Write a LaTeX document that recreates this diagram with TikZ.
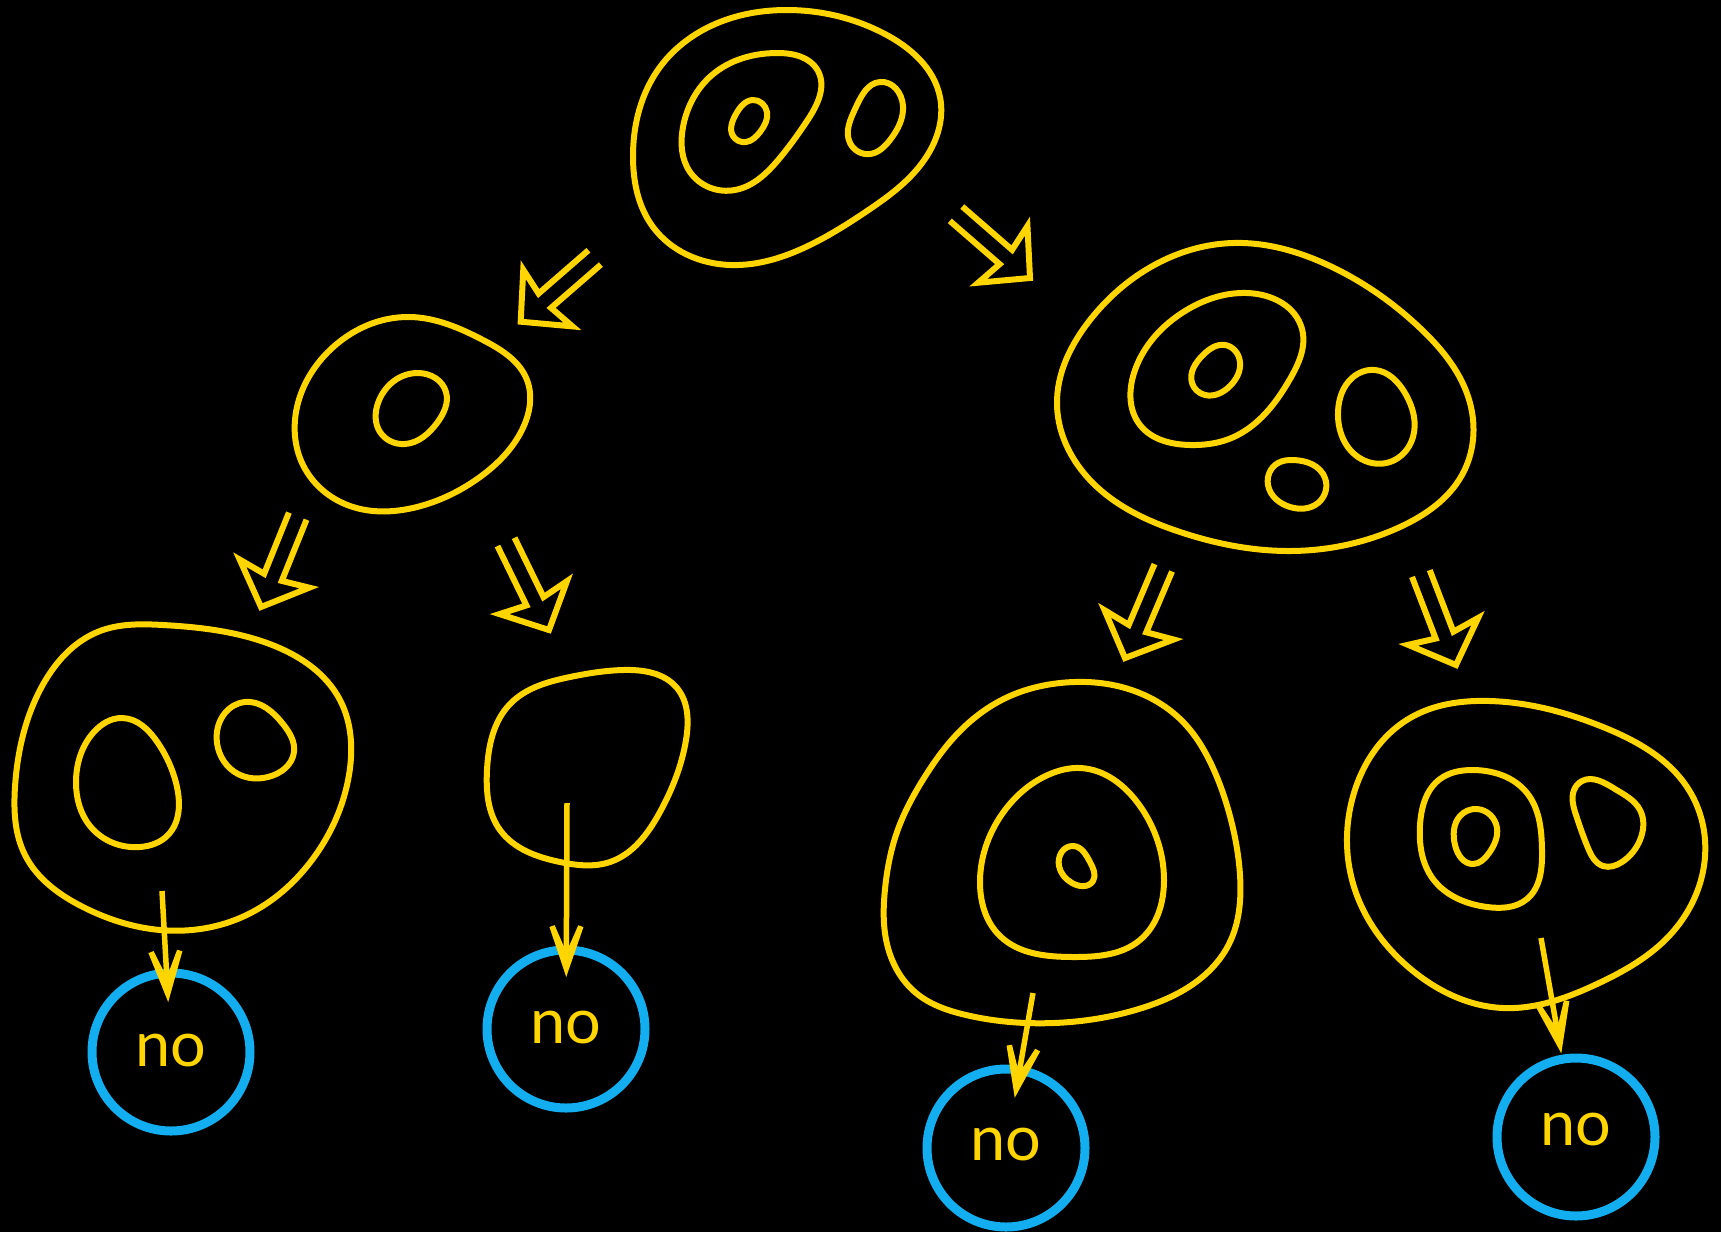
\documentclass[tikz,border=0pt]{standalone}
\usepackage{fontspec}
\newfontfamily\labelfont{Lato}
\usetikzlibrary{calc,hobby}
\definecolor{chalk}{HTML}{FFD500}
\definecolor{sky}{HTML}{13AEEF}
\begin{document}
\begin{tikzpicture}[x=1pt,y=-1pt,
  sketch/.style={draw=chalk, line width=6pt, line join=round},
  nocirc/.style={circle, draw=sky, line width=9pt, minimum size=158pt,
    inner sep=0pt, outer sep=0pt, text=chalk,
    font=\labelfont\fontsize{63}{70}\selectfont},
  conn/.style={draw=chalk, line width=5.5pt, shorten >=15pt},
  headat/.style={pos=1, sloped, allow upside down},
  % barbed head with a solid point, pointing along +x
  vhead/.pic={
    \fill[chalk] (0,0) -- (-50,-17) -- (-51.8,-11.8) -- (-31,-2.75)
      -- (-31,2.75) -- (-51.8,11.8) -- (-50,17) -- cycle;
  },
  % hollow double-line arrow, pointing along +x
  dblarrow/.pic={
    \draw[chalk, line width=6pt, line join=miter]
      (-98,-9.5) -- (-32,-9.5) -- (-36,-37.5) -- (0,0)
      -- (-36,37.5) -- (-32,9.5) -- (-98,9.5);
  }]

% canvas
\fill[black] (0,0) rectangle (1721,1232);
\useasboundingbox (0,0) rectangle (1721,1232);

% ---- top region ----
\draw[sketch] plot[closed hobby] coordinates {(787,10) (883,33) (940,97) (938,132) (911,176) (867,211) (812,244) (730,265) (653,227) (633,157) (660,67) (720,22)};
\draw[sketch] plot[closed hobby] coordinates {(777,53) (818,71) (807,121) (779,159) (735,190) (690,172) (683,127) (712,75)};
\draw[sketch] plot[closed hobby] coordinates {(753,100) (767,112) (760,132) (746,142) (733,136) (736,114)};
\draw[sketch] plot[closed hobby] coordinates {(880,82) (903,106) (890,140) (870,154) (850,143) (856,107)};

% ---- left middle region ----
\draw[sketch] plot[closed hobby] coordinates {(410,317) (483,340) (527,380) (522,430) (480,477) (417,507) (350,506) (303,465) (297,407) (330,350)};
\draw[sketch] plot[closed hobby] coordinates {(418,373) (446,392) (437,423) (405,444) (380,432) (378,403)};

% ---- right middle region ----
\draw[sketch] plot[closed hobby] coordinates {(1233,243) (1330,266) (1420,328) (1470,403) (1462,475) (1400,527) (1290,551) (1180,532) (1097,487) (1057,405) (1090,320) (1160,262)};
\draw[sketch] plot[closed hobby] coordinates {(1247,293) (1302,329) (1290,379) (1262,417) (1229,439) (1190,445) (1140,425) (1135,370) (1185,311)};
\draw[sketch] plot[closed hobby] coordinates {(1225,345) (1240,362) (1230,386) (1205,395) (1192,383) (1203,355)};
\draw[sketch] plot[closed hobby] coordinates {(1375,370) (1405,393) (1413,437) (1390,462) (1358,457) (1338,412) (1352,378)};
\draw[sketch] plot[closed hobby] coordinates {(1293,460) (1325,478) (1318,503) (1290,507) (1268,485) (1278,463)};

% ---- bottom row ----
\draw[sketch] plot[closed hobby] coordinates {(163,625) (267,643) (340,700) (349,775) (312,860) (240,918) (160,930) (83,907) (25,855) (15,787) (40,690) (100,631)};
\draw[sketch] plot[closed hobby] coordinates {(122,718) (158,743) (177,787) (168,835) (140,847) (90,826) (76,782) (93,733)};
\draw[sketch] plot[closed hobby] coordinates {(245,702) (283,724) (294,752) (268,777) (238,774) (217,743) (225,713)};

\draw[sketch] plot[closed hobby] coordinates {(623,670) (677,688) (686,740) (660,812) (610,862) (560,862) (500,830) (487,770) (510,704) (570,677)};

\draw[sketch] plot[closed hobby] coordinates {(1060,683) (1142,694) (1185,724) (1213,768) (1231,820) (1240,875) (1229,944) (1196,982) (1142,1008) (1054,1023) (966,1015) (916,993) (887,944) (885,889) (897,832) (924,778) (962,729) (1010,696)};
\draw[sketch] plot[closed hobby] coordinates {(1080,768) (1140,806) (1164,880) (1140,940) (1073,957) (1000,936) (980,880) (1005,810) (1050,774)};
\draw[sketch] plot[closed hobby] coordinates {(1073,846) (1090,862) (1093,881) (1072,883) (1059,866)};

\draw[sketch] plot[closed hobby] coordinates {(1490,701) (1603,727) (1687,787) (1705,840) (1670,935) (1597,984) (1503,1008) (1413,971) (1355,890) (1352,800) (1410,718)};
\draw[sketch] plot[closed hobby] coordinates {(1473,770) (1527,793) (1542,850) (1527,899) (1487,907) (1433,879) (1420,825) (1440,779)};
\draw[sketch] plot[closed hobby] coordinates {(1477,809) (1497,828) (1489,853) (1473,864) (1455,845) (1460,816)};
\draw[sketch] plot[closed hobby] coordinates {(1582,781) (1615,789) (1640,810) (1640,840) (1622,862) (1603,866) (1588,848) (1576,815) (1574,790)};

% ---- double arrows between regions ----
\coordinate (tipA) at (520.7,321.7);
\coordinate (tipB) at (1030,278);
\coordinate (tipC) at (261,607);
\coordinate (tipD) at (549,630);
\coordinate (tipE) at (1125,658);
\coordinate (tipF) at (1456,665);
\pic[rotate=-139] at (tipA) {dblarrow};
\pic[rotate=-41]  at (tipB) {dblarrow};
\pic[rotate=-112] at (tipC) {dblarrow};
\pic[rotate=-64]  at (tipD) {dblarrow};
\pic[rotate=-113] at (tipE) {dblarrow};
\pic[rotate=-69]  at (tipF) {dblarrow};

% ---- answer circles ----
\node[nocirc] (no1) at (171,1052) {\raisebox{4pt}{no}};
\node[nocirc] (no2) at (566,1029) {\raisebox{4pt}{no}};
\node[nocirc] (no3) at (1006,1148) {\raisebox{7pt}{no}};
\node[nocirc] (no4) at (1576,1137) {\raisebox{15pt}{no}};

% ---- connectors from regions to circles ----
\coordinate (s1) at (162,891);
\coordinate (s2) at (567,803);
\coordinate (s3) at (1033,993);
\coordinate (s4) at (1541,938);
\draw[conn] (s1) -- ($(no1.center)!50pt!(s1)$) pic[headat] {vhead};
\draw[conn] (s2) -- ($(no2.center)!52pt!(s2)$) pic[headat] {vhead};
\draw[conn] (s3) -- ($(no3.center)!51pt!(s3)$) pic[headat] {vhead};
\draw[conn] (s4) -- ($(no4.center)!85pt!(s4)$) pic[headat] {vhead};

\end{tikzpicture}
\end{document}
